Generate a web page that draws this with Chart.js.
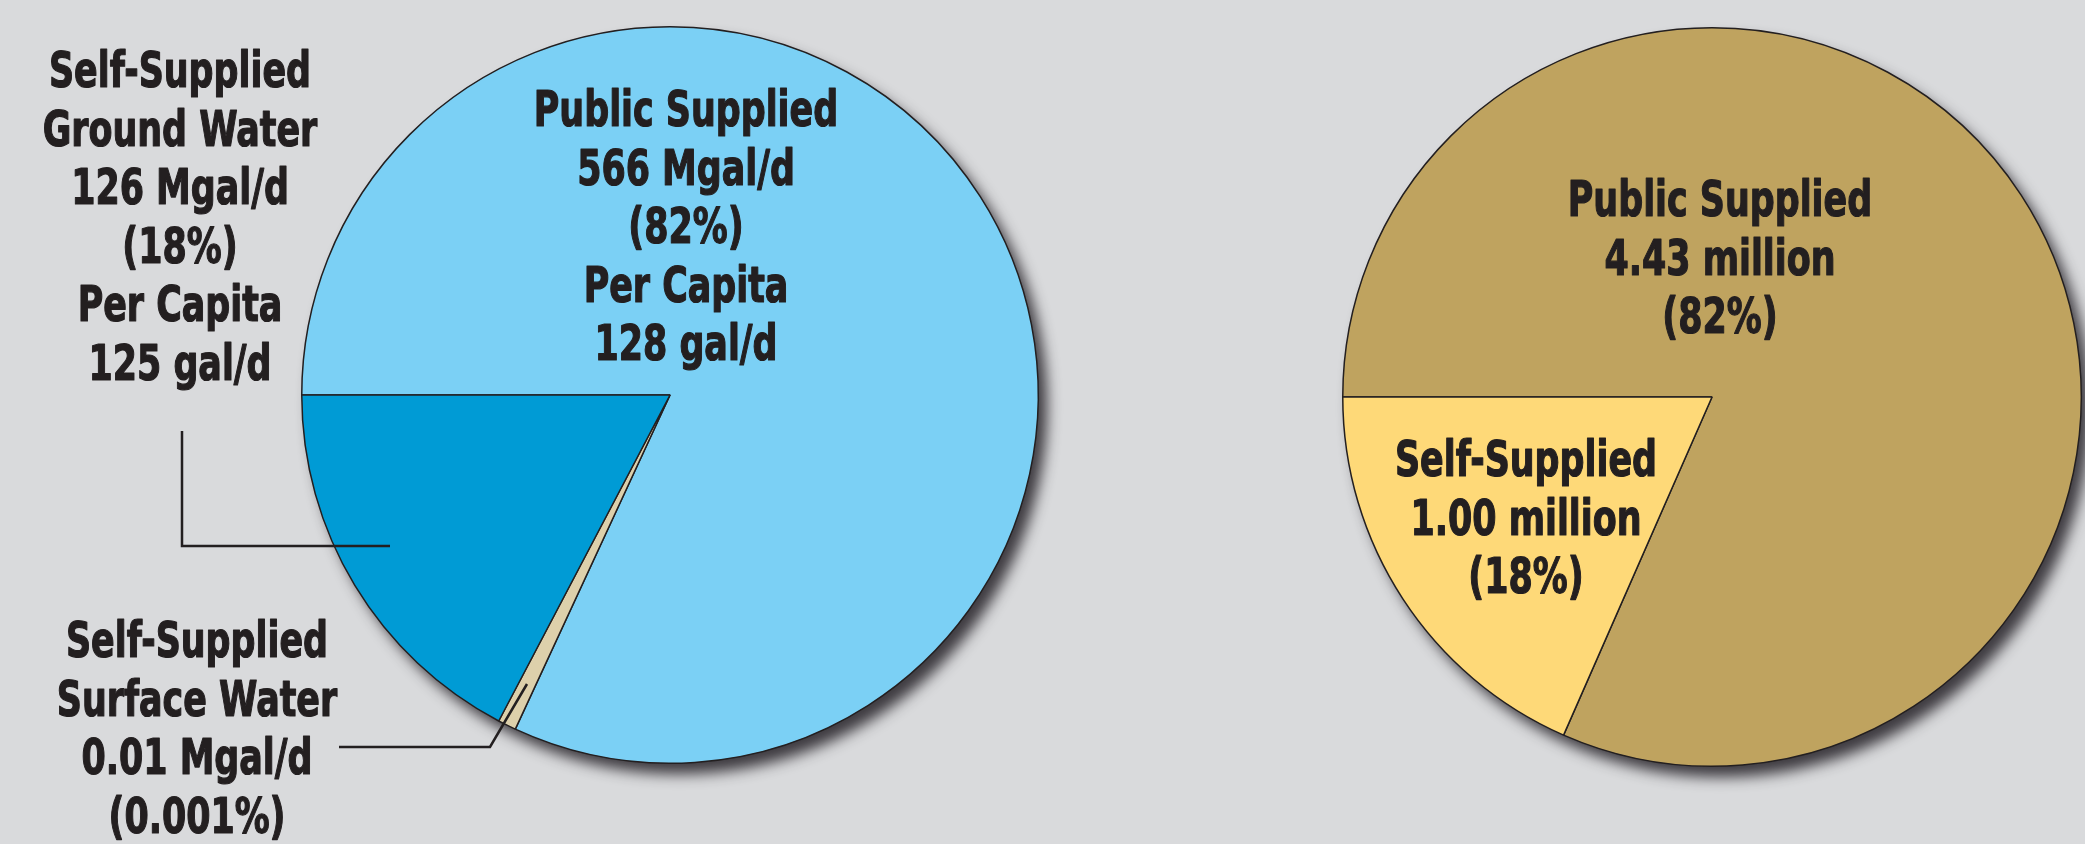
<!DOCTYPE html>
<html lang="en">
<head>
    <meta charset="UTF-8">
    <title>Domestic Water Use</title>
    <script src="https://cdn.jsdelivr.net/npm/chart.js"></script>
    <style>
        body, html {
            margin: 0;
            width: 2085px;
            height: 844px;
            background: #d9dadc;
            overflow: hidden;
        }
        canvas {
            position: absolute;
            left: 0;
            top: 0;
        }
    </style>
</head>
<body>
    <canvas id="withdrawalChart" width="2085" height="844"></canvas>
    <canvas id="populationChart" width="2085" height="844"></canvas>
    <script>
        // withdrawals (Mgal/d) - shares as drawn in the picture, percent of the circle
        const withdrawalCategories = ['Public Supplied', 'Self-Supplied Surface Water', 'Self-Supplied Ground Water'];
        const withdrawalShares = [81.9, 0.8, 17.3];
        const withdrawalColors = ['#7bd0f5', '#ddd0ab', '#009bd5'];

        // population served (millions)
        const populationCategories = ['Public Supplied', 'Self-Supplied'];
        const populationValues = [4.43, 1.00];
        const populationColors = ['#bfa35f', '#fed978'];

        const publicWithdrawalText = ['Public Supplied', '566 Mgal/d', '(82%)', 'Per Capita', '128 gal/d'];
        const groundWaterText = ['Self-Supplied', 'Ground Water', '126 Mgal/d', '(18%)', 'Per Capita', '125 gal/d'];
        const surfaceWaterText = ['Self-Supplied', 'Surface Water', '0.01 Mgal/d', '(0.001%)'];
        const publicPopulationText = ['Public Supplied', '4.43 million', '(82%)'];
        const selfPopulationText = ['Self-Supplied', '1.00 million', '(18%)'];

        const ink = '#231f20';
        const lineHeight = 58.6;
        const fontSpec = 'bold 49px "Liberation Sans Narrow", "DejaVu Sans Condensed", "Liberation Sans", sans-serif';

        function drawBlock(ctx, lines, x, y) {
            ctx.save();
            ctx.font = fontSpec;
            // squeeze text to the condensed width of the original lettering
            const sx = 262 / ctx.measureText('Self-Supplied').width;
            ctx.fillStyle = ink;
            ctx.strokeStyle = ink;
            ctx.lineWidth = 1.2;
            ctx.lineJoin = 'round';
            ctx.textAlign = 'center';
            ctx.textBaseline = 'alphabetic';
            ctx.translate(x, y);
            ctx.scale(sx, 1);
            lines.forEach((t, i) => {
                ctx.fillText(t, 0, i * lineHeight);
                ctx.strokeText(t, 0, i * lineHeight);
            });
            ctx.restore();
        }

        function drawLeader(ctx, cx, cy, pts) {
            ctx.save();
            ctx.strokeStyle = ink;
            ctx.lineWidth = 2.5;
            ctx.beginPath();
            pts.forEach((p, i) => {
                if (i === 0) ctx.moveTo(cx + p[0], cy + p[1]);
                else ctx.lineTo(cx + p[0], cy + p[1]);
            });
            ctx.stroke();
            ctx.restore();
        }

        // soft drop shadow under the whole pie
        const pieShadow = {
            id: 'pieShadow',
            beforeDatasetsDraw(chart) {
                const arc = chart.getDatasetMeta(0).data[0];
                const ctx = chart.ctx;
                ctx.save();
                ctx.shadowColor = 'rgba(35, 32, 38, 0.85)';
                ctx.shadowBlur = 14;
                ctx.shadowOffsetX = 9;
                ctx.shadowOffsetY = 11;
                ctx.fillStyle = '#777';
                ctx.beginPath();
                ctx.arc(arc.x, arc.y, arc.outerRadius, 0, Math.PI * 2);
                ctx.fill();
                ctx.restore();
            }
        };

        const withdrawalLabels = {
            id: 'withdrawalLabels',
            afterDatasetsDraw(chart) {
                const arc = chart.getDatasetMeta(0).data[0];
                const ctx = chart.ctx;
                const cx = arc.x, cy = arc.y;
                drawBlock(ctx, publicWithdrawalText, cx + 16, cy - 269);
                drawBlock(ctx, groundWaterText, cx - 490, cy - 308);
                drawBlock(ctx, surfaceWaterText, cx - 473, cy + 262);
                drawLeader(ctx, cx, cy, [[-488, 36], [-488, 151], [-280, 151]]);
                drawLeader(ctx, cx, cy, [[-331, 352], [-180, 352], [-143, 289]]);
            }
        };

        const populationLabels = {
            id: 'populationLabels',
            afterDatasetsDraw(chart) {
                const arc = chart.getDatasetMeta(0).data[0];
                const ctx = chart.ctx;
                drawBlock(ctx, publicPopulationText, arc.x + 8, arc.y - 181);
                drawBlock(ctx, selfPopulationText, arc.x - 186, arc.y + 79);
            }
        };

        function pieOptions(padding) {
            return {
                responsive: false,
                animation: false,
                events: [],
                rotation: 270,
                layout: { padding: padding },
                plugins: {
                    legend: { display: false },
                    tooltip: { enabled: false }
                }
            };
        }

        new Chart(document.getElementById('withdrawalChart'), {
            type: 'pie',
            data: {
                labels: withdrawalCategories,
                datasets: [{
                    data: withdrawalShares,
                    backgroundColor: withdrawalColors,
                    borderColor: ink,
                    borderWidth: 1.5,
                    borderJoinStyle: 'bevel'
                }]
            },
            options: pieOptions({ left: 301, right: 1046, top: 26, bottom: 80 }),
            plugins: [pieShadow, withdrawalLabels]
        });

        new Chart(document.getElementById('populationChart'), {
            type: 'pie',
            data: {
                labels: populationCategories,
                datasets: [{
                    data: populationValues,
                    backgroundColor: populationColors,
                    borderColor: ink,
                    borderWidth: 1.5,
                    borderJoinStyle: 'bevel'
                }]
            },
            options: pieOptions({ left: 1342, right: 3, top: 27, bottom: 77 }),
            plugins: [pieShadow, populationLabels]
        });
    </script>
</body>
</html>
